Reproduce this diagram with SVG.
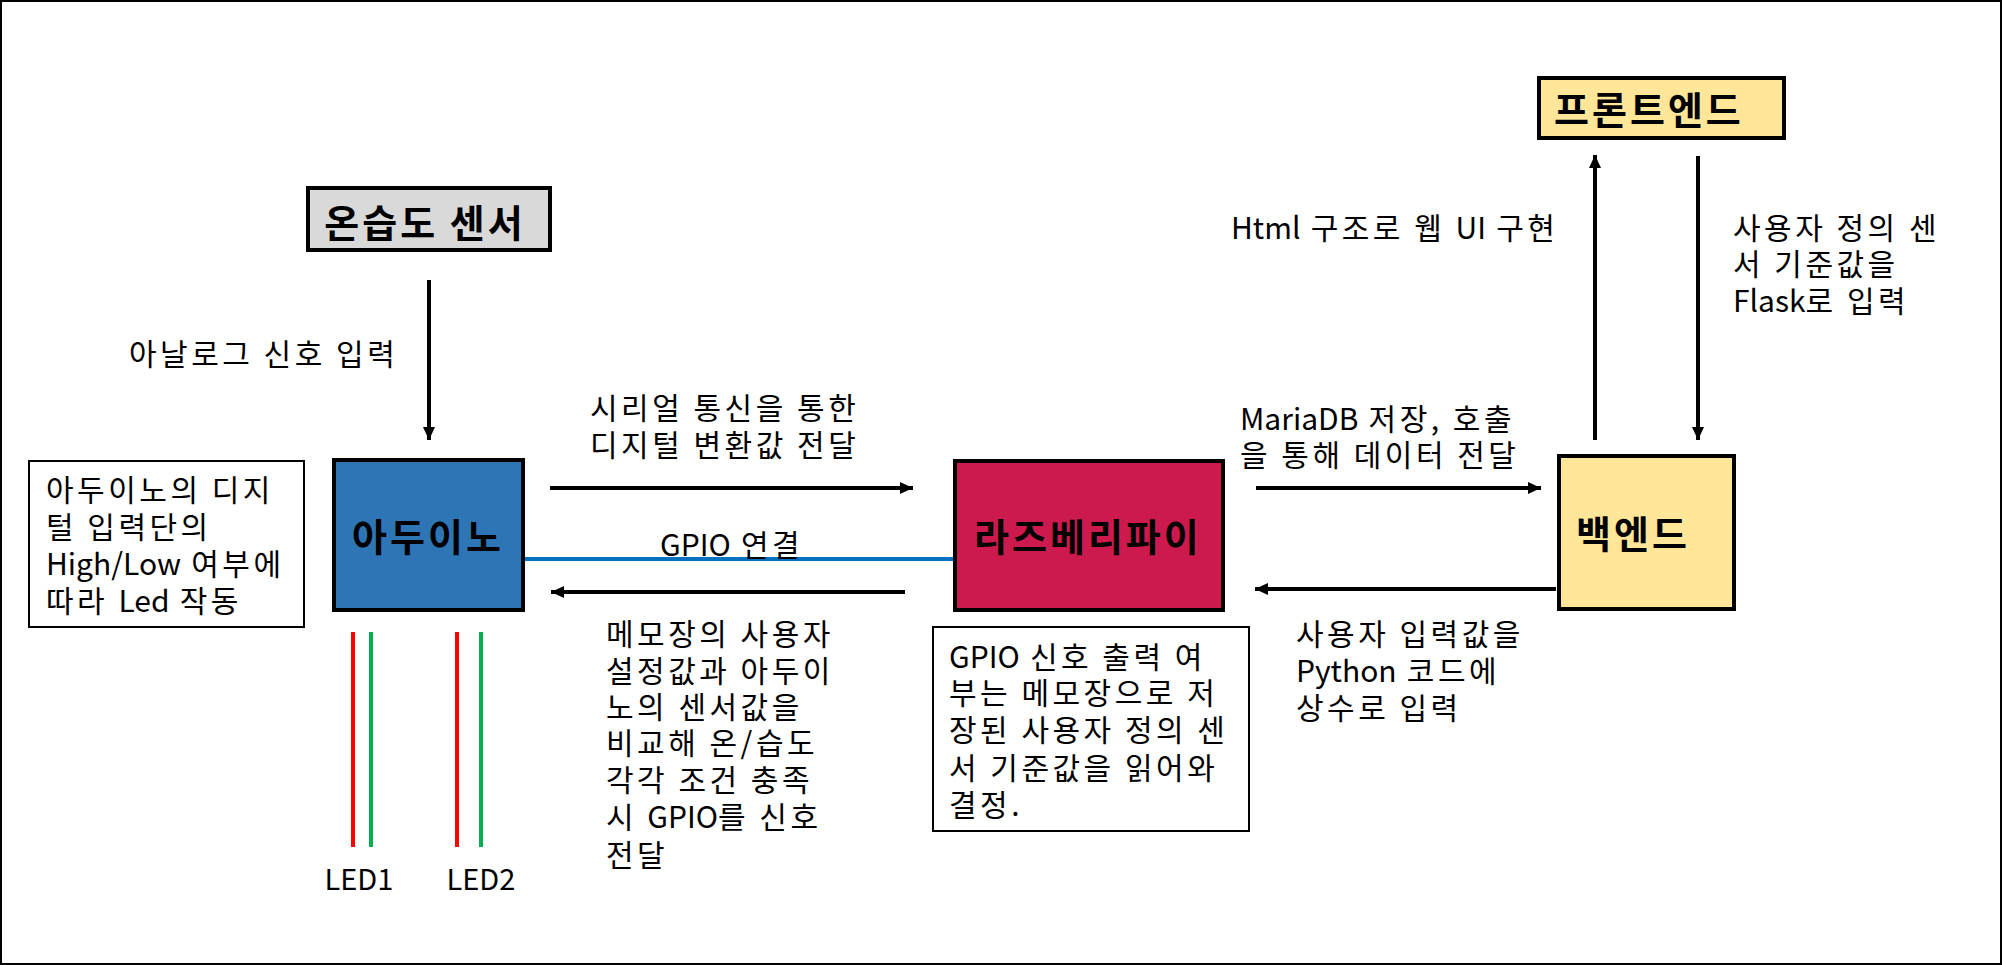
<svg xmlns="http://www.w3.org/2000/svg" width="2002" height="965" viewBox="0 0 2002 965">
<defs>
<marker id="ah" markerUnits="userSpaceOnUse" markerWidth="14" markerHeight="14" refX="13" refY="7" orient="auto">
<path d="M0,1 L13,7 L0,13 z" fill="#000"/>
</marker>
<style>
.t{font-family:"Noto Sans CJK KR","Malgun Gothic","Noto Sans",sans-serif;font-size:30px;letter-spacing:3.5px;fill:#000;dominant-baseline:central}
.b{font-family:"Noto Sans CJK KR","Malgun Gothic","Noto Sans",sans-serif;font-size:38px;letter-spacing:3px;font-weight:bold;fill:#000;dominant-baseline:central}
.lat{letter-spacing:0}
.box{stroke:#000;stroke-width:4}
.note{fill:#fff;stroke:#000;stroke-width:2}
.arr{stroke:#000;stroke-width:4;fill:none;marker-end:url(#ah)}
.led{stroke-width:4}
</style>
</defs>
<rect x="1" y="1" width="2000" height="963" fill="#fff" stroke="#000" stroke-width="2"/>

<g id="connectors">
<line class="arr" x1="429" y1="280" x2="429" y2="440"/>
<line class="arr" x1="550" y1="488" x2="913" y2="488"/>
<line class="arr" x1="905" y1="592" x2="551" y2="592"/>
<line class="arr" x1="1256" y1="488" x2="1541" y2="488"/>
<line class="arr" x1="1556" y1="589" x2="1255" y2="589"/>
<line class="arr" x1="1595" y1="440" x2="1595" y2="155"/>
<line class="arr" x1="1698" y1="156" x2="1698" y2="440"/>
<line x1="523" y1="559" x2="955" y2="559" stroke="#0070c0" stroke-width="4"/>
<text class="t" x="129" y="352">아날로그 신호 입력</text>
<text class="t" x="590" y="406">시리얼 통신을 통한</text>
<text class="t" x="590" y="443">디지털 변환값 전달</text>
<text class="t" x="660" y="543"><tspan class="lat">GPIO</tspan> 연결</text>
<text class="t" x="606" y="632">메모장의 사용자</text>
<text class="t" x="606" y="669">설정값과 아두이</text>
<text class="t" x="606" y="705">노의 센서값을</text>
<text class="t" x="606" y="741">비교해 온/습도</text>
<text class="t" x="606" y="778">각각 조건 충족</text>
<text class="t" x="606" y="815">시 <tspan class="lat">GPIO</tspan>를 신호</text>
<text class="t" x="606" y="853">전달</text>
<text class="t" x="1240" y="417"><tspan class="lat">MariaDB</tspan> 저장, 호출</text>
<text class="t" x="1240" y="453">을 통해 데이터 전달</text>
<text class="t" x="1296" y="632">사용자 입력값을</text>
<text class="t" x="1296" y="669"><tspan class="lat">Python</tspan> 코드에</text>
<text class="t" x="1296" y="706">상수로 입력</text>
<text class="t" x="1231" y="226"><tspan class="lat">Html</tspan> 구조로 웹 <tspan class="lat">UI</tspan> 구현</text>
<text class="t" x="1733" y="226">사용자 정의 센</text>
<text class="t" x="1733" y="262">서 기준값을</text>
<text class="t" x="1733" y="299"><tspan class="lat">Flask</tspan>로 입력</text>
</g>

<g id="sensor">
<rect class="box" x="308" y="188" width="242" height="62" fill="#d9d9d9"/>
<text class="b" x="425" y="220" text-anchor="middle">온습도 센서</text>
</g>

<g id="arduino">
<rect class="box" x="334" y="460" width="189" height="150" fill="#2e75b6"/>
<text class="b" x="352" y="534">아두이노</text>
</g>

<g id="arduino-note">
<rect class="note" x="29" y="461" width="275" height="166"/>
<text class="t" x="46" y="488">아두이노의 디지</text>
<text class="t" x="46" y="525">털 입력단의</text>
<text class="t" x="46" y="562"><tspan class="lat">High/Low</tspan> 여부에</text>
<text class="t" x="46" y="599">따라 <tspan class="lat">Led</tspan> 작동</text>
</g>

<g id="leds">
<line class="led" x1="353" y1="632" x2="353" y2="847" stroke="#ff0000"/>
<line class="led" x1="371" y1="632" x2="371" y2="847" stroke="#00b050"/>
<line class="led" x1="457" y1="632" x2="457" y2="847" stroke="#ff0000"/>
<line class="led" x1="481" y1="632" x2="481" y2="847" stroke="#00b050"/>
<text class="t lat" x="359" y="877" text-anchor="middle" style="font-size:29px">LED1</text>
<text class="t lat" x="481" y="877" text-anchor="middle" style="font-size:29px">LED2</text>
</g>

<g id="raspberry">
<rect class="box" x="955" y="461" width="268" height="149" fill="#cc1a4e"/>
<text class="b" x="974" y="534">라즈베리파이</text>
</g>

<g id="raspberry-note">
<rect class="note" x="933" y="627" width="316" height="204"/>
<text class="t" x="949" y="655"><tspan class="lat">GPIO</tspan> 신호 출력 여</text>
<text class="t" x="949" y="691">부는 메모장으로 저</text>
<text class="t" x="949" y="728">장된 사용자 정의 센</text>
<text class="t" x="949" y="766">서 기준값을 읽어와</text>
<text class="t" x="949" y="803">결정.</text>
</g>

<g id="backend">
<rect class="box" x="1559" y="456" width="175" height="153" fill="#ffe699"/>
<text class="b" x="1576" y="531">백엔드</text>
</g>

<g id="frontend">
<rect class="box" x="1539" y="78" width="245" height="60" fill="#ffe699"/>
<text class="b" x="1554" y="107">프론트엔드</text>
</g>
</svg>
